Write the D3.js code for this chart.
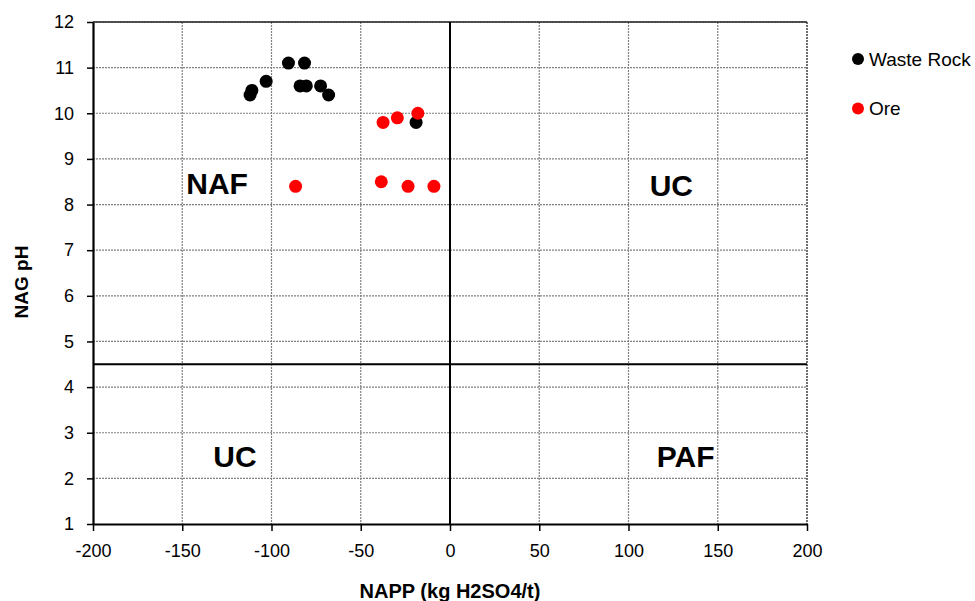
<!DOCTYPE html>
<html>
<head>
<meta charset="utf-8">
<script src="https://cdn.jsdelivr.net/npm/d3@7"></script>
<style>
  html, body { margin: 0; padding: 0; background: #fff; }
  svg { display: block; font-family: Arial, "Liberation Sans", sans-serif; }
</style>
</head>
<body>
<svg id="chart" width="975" height="601"></svg>
<script>
// NAPP (kg H2SO4/t) vs NAG pH
const wasteRockNAPP = [-112, -111, -103, -90.5, -81.5, -84, -80.5, -72.5, -68, -19];
const wasteRockNAG  = [10.4, 10.5, 10.7, 11.1, 11.1, 10.6, 10.6, 10.6, 10.4, 9.8];
const oreNAPP = [-37.5, -29.5, -18, -86.5, -38.5, -23.5, -9];
const oreNAG  = [9.8, 9.9, 10.0, 8.4, 8.5, 8.4, 8.4];

const xTicks = [-200, -150, -100, -50, 0, 50, 100, 150, 200];
const yTicks = [1, 2, 3, 4, 5, 6, 7, 8, 9, 10, 11, 12];
const xDomain = [-200, 200];
const yDomain = [1, 12];
const napCutoff = 0;
const phCutoff = 4.5;

const seriesNames = ["Waste Rock", "Ore"];
const seriesColors = ["#000000", "#ff0000"];

const quadrantLabels = ["NAF", "UC", "UC", "PAF"];
const quadrantX = [-130.5, 124, -120.5, 132];
const quadrantY = [8.24, 8.18, 2.24, 2.24];

const svg = d3.select("#chart");
const plotLeft = 93, plotRight = 807, plotTop = 22, plotBottom = 524;

const x = d3.scaleLinear().domain(xDomain).range([plotLeft, plotRight]);
const y = d3.scaleLinear().domain(yDomain).range([plotBottom, plotTop]);

// dotted gridlines
const grid = svg.append("g");
grid.selectAll("line.h").data(yTicks.filter(t => t > yDomain[0])).join("line")
  .attr("x1", plotLeft).attr("x2", plotRight)
  .attr("y1", d => y(d)).attr("y2", d => y(d))
  .attr("stroke", "#808080").attr("stroke-width", 1.2).attr("stroke-dasharray", "2,1");
grid.selectAll("line.v").data(xTicks.filter(t => t > xDomain[0] && t !== napCutoff)).join("line")
  .attr("x1", d => x(d)).attr("x2", d => x(d))
  .attr("y1", plotTop).attr("y2", plotBottom)
  .attr("stroke", d => d === xDomain[1] ? "#404040" : "#808080")
  .attr("stroke-width", d => d === xDomain[1] ? 1.5 : 1.2)
  .attr("stroke-dasharray", "2,1");

// top border
svg.append("line").attr("x1", plotLeft).attr("x2", plotRight).attr("y1", plotTop).attr("y2", plotTop)
  .attr("stroke", "#222").attr("stroke-width", 1.5);

// classification boundaries
svg.append("line").attr("x1", x(napCutoff)).attr("x2", x(napCutoff)).attr("y1", plotTop).attr("y2", plotBottom)
  .attr("stroke", "#000").attr("stroke-width", 2);
svg.append("line").attr("x1", plotLeft).attr("x2", plotRight).attr("y1", y(phCutoff)).attr("y2", y(phCutoff))
  .attr("stroke", "#000").attr("stroke-width", 2);

// axes (plain hyphen for negatives)
const plain = d => String(d);
const xAxis = svg.append("g").attr("transform", `translate(0,${plotBottom})`)
  .call(d3.axisBottom(x).tickValues(xTicks).tickFormat(plain).tickSize(7).tickPadding(13).tickSizeOuter(0));
const yAxis = svg.append("g").attr("transform", `translate(${plotLeft},0)`)
  .call(d3.axisLeft(y).tickValues(yTicks).tickFormat(plain).tickSize(6).tickPadding(13).tickSizeOuter(0));
[xAxis, yAxis].forEach(a => {
  a.select(".domain").attr("stroke", "#000").attr("stroke-width", 2.2);
  a.selectAll(".tick line").attr("stroke", "#000").attr("stroke-width", 1.5);
  a.selectAll(".tick text").attr("font-family", "Arial, 'Liberation Sans', sans-serif")
    .attr("font-size", 18).attr("fill", "#000");
});
xAxis.selectAll(".tick text").attr("dy", "0.71em");

// axis titles
svg.append("text").attr("x", (plotLeft + plotRight) / 2).attr("y", 598)
  .attr("text-anchor", "middle").attr("font-size", 20).attr("font-weight", "bold")
  .text("NAPP (kg H2SO4/t)");
svg.append("text").attr("transform", "translate(28,282) rotate(-90)")
  .attr("text-anchor", "middle").attr("font-size", 19).attr("font-weight", "bold")
  .text("NAG pH");

// quadrant labels
svg.selectAll("text.quad").data(quadrantLabels).join("text")
  .attr("x", (d, i) => x(quadrantX[i])).attr("y", (d, i) => y(quadrantY[i]))
  .attr("text-anchor", "middle").attr("font-size", 30).attr("font-weight", "bold")
  .text(d => d);

// points
const series = [
  { name: seriesNames[0], color: seriesColors[0], xs: wasteRockNAPP, ys: wasteRockNAG },
  { name: seriesNames[1], color: seriesColors[1], xs: oreNAPP, ys: oreNAG }
];
series.forEach(s => {
  svg.append("g").selectAll("circle").data(s.xs).join("circle")
    .attr("cx", d => x(d)).attr("cy", (d, i) => y(s.ys[i]))
    .attr("r", 6.5).attr("fill", s.color);
});

// legend
const legend = svg.append("g");
series.forEach((s, i) => {
  const ly = 59 + i * 49.5;
  legend.append("circle").attr("cx", 858).attr("cy", ly).attr("r", 6).attr("fill", s.color);
  legend.append("text").attr("x", 869).attr("y", ly).attr("dy", "0.35em")
    .attr("font-size", 19).text(s.name);
});
</script>
</body>
</html>
